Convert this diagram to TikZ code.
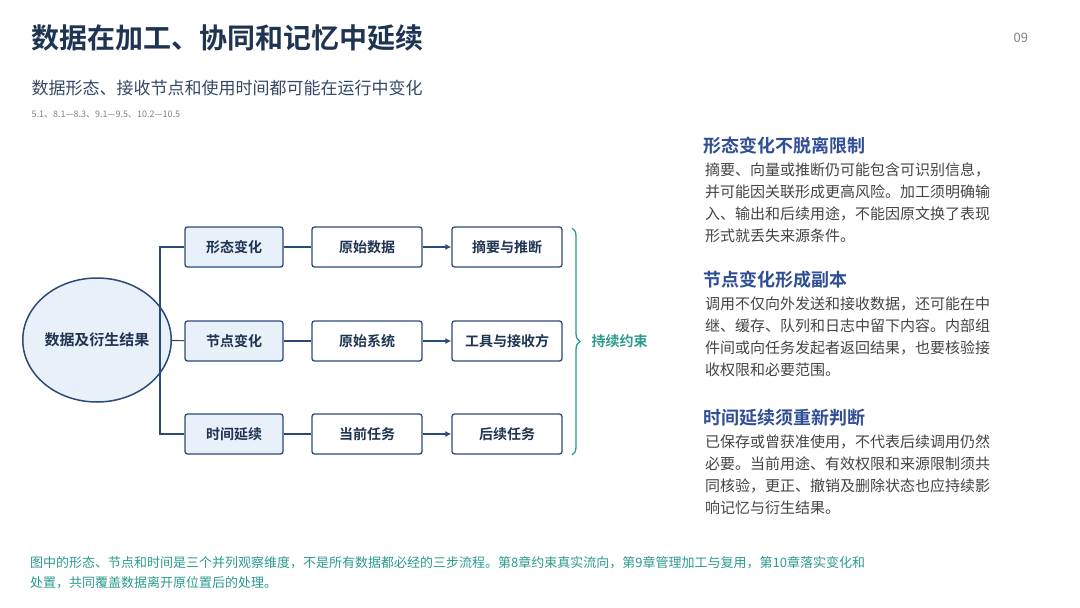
\documentclass[tikz,border=0pt]{standalone}
\usepackage{fontspec}
\setmainfont{Noto Sans CJK SC}
\newfontfamily\cjkb{Noto Sans CJK SC Bold}
\usetikzlibrary{positioning,shapes.geometric,decorations.pathreplacing,arrows.meta}
\definecolor{navy}{HTML}{1E3452}
\definecolor{edge}{HTML}{2C4A78}
\definecolor{pale}{HTML}{E8F0F9}
\definecolor{teal}{HTML}{2A9A8E}
\definecolor{head}{HTML}{2F4E95}
\definecolor{body}{HTML}{444444}
\tikzset{
  box/.style={draw=edge, line width=1.3pt, rounded corners=2.5pt, minimum width=98pt, minimum height=40pt, font=\cjkb\fontsize{14}{14}\selectfont, text=navy},
  dim/.style={box, fill=pale},
  res/.style={box, fill=white, minimum width=110pt},
  link/.style={edge, line width=1.2pt},
  flow/.style={link, -{Latex[length=6pt,width=6pt]}}
}
\begin{document}
\begin{tikzpicture}[x=1pt,y=-1pt]
\useasboundingbox (0,0) rectangle (1080,608);
% header
\node[anchor=west, text=navy, font=\cjkb\fontsize{28}{28}\selectfont] (title) at (28,38) {数据在加工、协同和记忆中延续};
\node[anchor=west, text=gray, font=\fontsize{13}{13}\selectfont] (page) at (1010,38) {09};
\node[anchor=west, text=navy!90, font=\fontsize{17}{17}\selectfont] (sub) at (28,88) {数据形态、接收节点和使用时间都可能在运行中变化};
\node[anchor=west, text=gray, font=\fontsize{9}{9}\selectfont] (refs) at (28,114) {5.1、8.1—8.3、9.1—9.5、10.2—10.5};
% diagram
\node[draw=edge, line width=1.5pt, fill=pale, ellipse, minimum width=120pt, minimum height=124pt, inner sep=0pt, text=navy, font=\cjkb\fontsize{15}{15}\selectfont] (src) at (97,340) {数据及衍生结果};
\node[dim] (form) at (234,247) {形态变化};
\node[dim] (hop) at (234,341) {节点变化};
\node[dim] (time) at (234,434) {时间延续};
\node[res] (raw) at (367,247) {原始数据};
\node[res] (sys) at (367,341) {原始系统};
\node[res] (now) at (367,434) {当前任务};
\node[res] (sum) at (507,247) {摘要与推断};
\node[res] (tool) at (507,341) {工具与接收方};
\node[res] (next) at (507,434) {后续任务};
\coordinate (fork) at (160,341);
\draw[link] (src) -- (hop);
\draw[link] (form.west) -| (fork) |- (time.west);
\foreach \a/\b/\c in {form/raw/sum, hop/sys/tool, time/now/next} {
  \draw[link] (\a) -- (\b);
  \draw[flow] (\b) -- (\c);
}
\draw[teal, line width=1.3pt, decorate, decoration={brace, amplitude=8pt}] (572,228) -- (572,455);
\node[anchor=west, text=teal, font=\cjkb\fontsize{14}{14}\selectfont] (keep) at (588,341) {持续约束};
% right column
\tikzset{hd/.style={anchor=west, text=head, font=\cjkb\fontsize{18}{18}\selectfont},
  tx/.style={anchor=north west, align=left, text=body, font=\fontsize{15}{22}\selectfont, inner sep=0pt}}
\node[hd] (h1) at (700,146) {形态变化不脱离限制};
\node[tx] (t1) at (705,163) {摘要、向量或推断仍可能包含可识别信息，\\并可能因关联形成更高风险。加工须明确输\\入、输出和后续用途，不能因原文换了表现\\形式就丢失来源条件。};
\node[hd] (h2) at (700,280) {节点变化形成副本};
\node[tx] (t2) at (705,297) {调用不仅向外发送和接收数据，还可能在中\\继、缓存、队列和日志中留下内容。内部组\\件间或向任务发起者返回结果，也要核验接\\收权限和必要范围。};
\node[hd] (h3) at (700,418) {时间延续须重新判断};
\node[tx] (t3) at (705,435) {已保存或曾获准使用，不代表后续调用仍然\\必要。当前用途、有效权限和来源限制须共\\同核验，更正、撤销及删除状态也应持续影\\响记忆与衍生结果。};
% footer
\node[anchor=north west, align=left, text=teal, inner sep=0pt, font=\fontsize{13}{20}\selectfont] (note) at (30,556) {图中的形态、节点和时间是三个并列观察维度，不是所有数据都必经的三步流程。第8章约束真实流向，第9章管理加工与复用，第10章落实变化和\\处置，共同覆盖数据离开原位置后的处理。};
\end{tikzpicture}
\end{document}
